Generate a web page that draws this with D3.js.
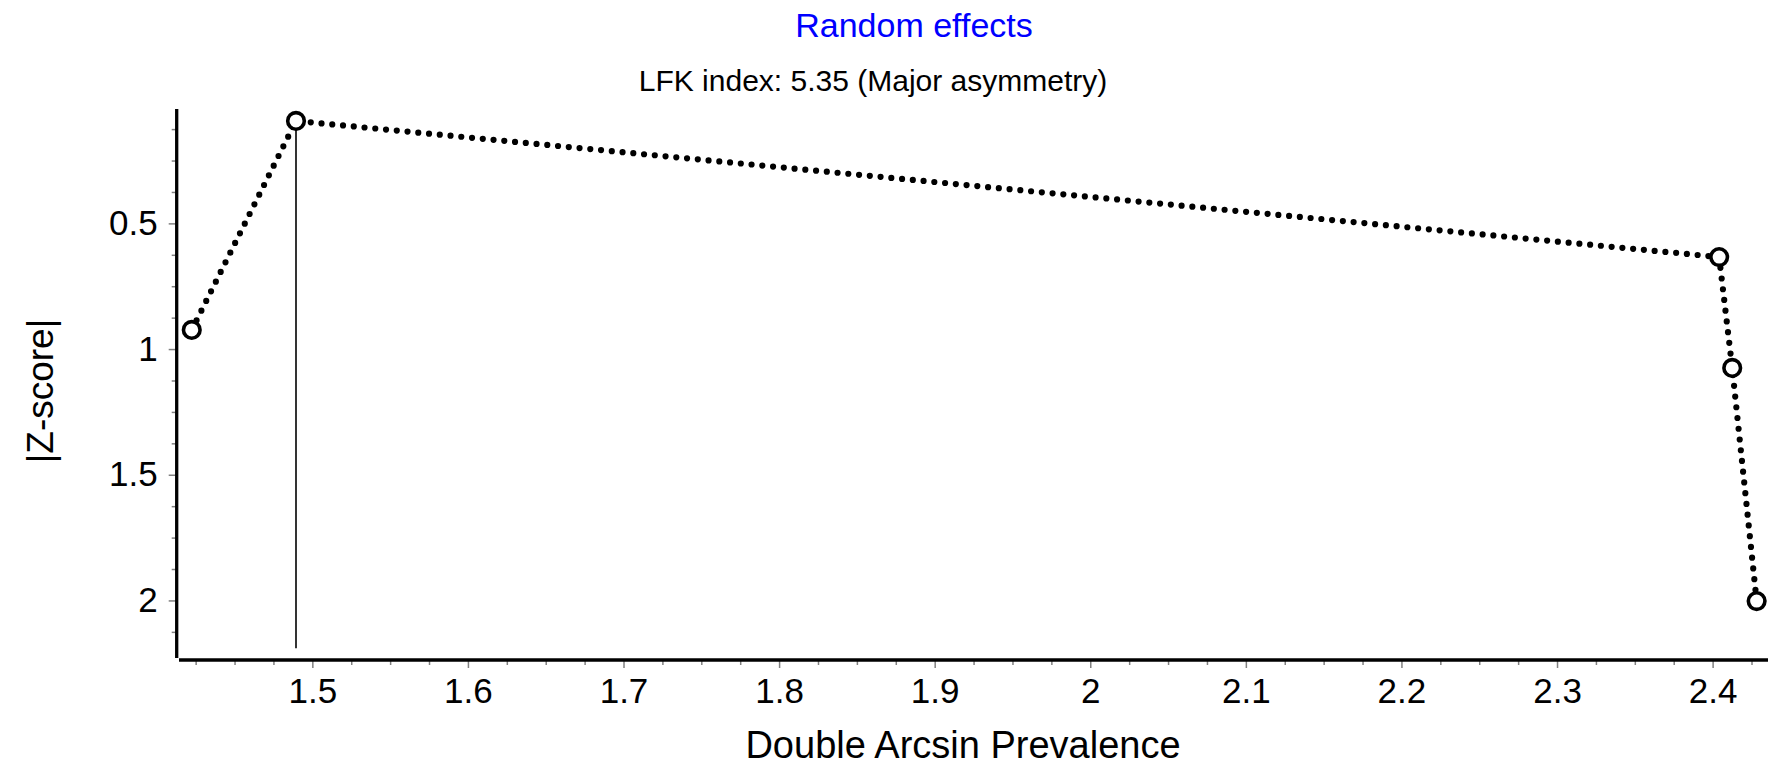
<!DOCTYPE html>
<html>
<head>
<meta charset="utf-8">
<script src="https://cdn.jsdelivr.net/npm/d3@7"></script>
<style>
  html, body { margin: 0; padding: 0; background: #fff; }
  svg { display: block; font-family: "Liberation Sans", Arial, sans-serif; }
  .tick line { stroke: #808080; stroke-width: 1.5; }
  .tick text { fill: #000; }
</style>
</head>
<body>
<div id="chart"></div>
<script>
// Data
const prevalence = [1.4225, 1.4895, 2.4042, 2.4126, 2.4283];
const zScore = [0.924, 0.0925, 0.634, 1.075, 2.0026];
const xDomain = [1.4143, 2.4356];
const yDomain = [0.045, 2.229];
const xMajorTicks = [1.5, 1.6, 1.7, 1.8, 1.9, 2, 2.1, 2.2, 2.3, 2.4];
const yMajorTicks = [0.5, 1, 1.5, 2];
const refLineBottom = 2.19;
const titleText = "Random effects";
const subtitleText = "LFK index: 5.35 (Major asymmetry)";
const xLabel = "Double Arcsin Prevalence";
const yLabel = "|Z-score|";

const width = 1776;
const height = 772;
const margin = { top: 109, right: 8, bottom: 114, left: 179 };

const svg = d3
  .select("#chart")
  .append("svg")
  .attr("width", width)
  .attr("height", height);

const x = d3
  .scaleLinear()
  .domain(xDomain)
  .range([margin.left, width - margin.right]);
const y = d3
  .scaleLinear()
  .domain(yDomain)
  .range([margin.top, height - margin.bottom]);

const points = prevalence.map((p, i) => ({ x: p, z: zScore[i] }));

// minor ticks every 0.025 on x, every 0.125 on y
const xMinor = d3.range(1.425, 2.43, 0.025).filter(
  (v) => !xMajorTicks.some((t) => Math.abs(t - v) < 1e-6)
);
const yMinor = d3.range(0.125, 2.2, 0.125).filter(
  (v) => !yMajorTicks.some((t) => Math.abs(t - v) < 1e-6)
);

const xAxisY = height - margin.bottom + 2;
const yAxisX = margin.left - 2.3;

// x axis
svg
  .append("g")
  .attr("transform", `translate(0,${xAxisY})`)
  .call(d3.axisBottom(x).tickValues(xMinor).tickSize(5).tickFormat(""))
  .call((g) => g.select(".domain").remove());
svg
  .append("g")
  .attr("class", "x-axis")
  .attr("transform", `translate(0,${xAxisY})`)
  .call(
    d3
      .axisBottom(x)
      .tickValues(xMajorTicks)
      .tickSize(8)
      .tickPadding(10)
      .tickFormat(d3.format("~g"))
  )
  .attr("font-size", 35)
  .attr("font-family", null)
  .call((g) => g.select(".domain").remove());
svg
  .append("line")
  .attr("x1", x(xDomain[0]))
  .attr("x2", x(xDomain[1]))
  .attr("y1", xAxisY)
  .attr("y2", xAxisY)
  .attr("stroke", "#000")
  .attr("stroke-width", 3.3);

// y axis
svg
  .append("g")
  .attr("transform", `translate(${yAxisX},0)`)
  .call(d3.axisLeft(y).tickValues(yMinor).tickSize(5).tickFormat(""))
  .call((g) => g.select(".domain").remove());
svg
  .append("g")
  .attr("class", "y-axis")
  .attr("transform", `translate(${yAxisX},0)`)
  .call(
    d3
      .axisLeft(y)
      .tickValues(yMajorTicks)
      .tickSize(8)
      .tickPadding(11)
      .tickFormat(d3.format("~g"))
  )
  .attr("font-size", 35)
  .attr("font-family", null)
  .call((g) => g.select(".domain").remove());
svg
  .append("line")
  .attr("x1", yAxisX)
  .attr("x2", yAxisX)
  .attr("y1", y(yDomain[0]))
  .attr("y2", y(yDomain[1]))
  .attr("stroke", "#000")
  .attr("stroke-width", 3.3);

// reference line at the point with the smallest |Z|
const minPoint = points.reduce((a, b) => (b.z < a.z ? b : a));
svg
  .append("line")
  .attr("x1", x(minPoint.x))
  .attr("x2", x(minPoint.x))
  .attr("y1", y(minPoint.z))
  .attr("y2", y(refLineBottom))
  .attr("stroke", "#000")
  .attr("stroke-width", 1.6);

// dotted connecting line
const line = d3
  .line()
  .x((d) => x(d.x))
  .y((d) => y(d.z));
svg
  .append("path")
  .datum(points)
  .attr("d", line)
  .attr("fill", "none")
  .attr("stroke", "#000")
  .attr("stroke-width", 6.2)
  .attr("stroke-linecap", "round")
  .attr("stroke-dasharray", "0 10.8");

svg
  .append("g")
  .selectAll("circle")
  .data(points)
  .join("circle")
  .attr("cx", (d) => x(d.x))
  .attr("cy", (d) => y(d.z))
  .attr("r", 8.3)
  .attr("fill", "#fff")
  .attr("stroke", "#000")
  .attr("stroke-width", 3.6);

// titles
svg
  .append("text")
  .attr("x", 914)
  .attr("y", 37)
  .attr("text-anchor", "middle")
  .attr("font-size", 34)
  .attr("fill", "#0000ff")
  .text(titleText);
svg
  .append("text")
  .attr("x", 873)
  .attr("y", 91)
  .attr("text-anchor", "middle")
  .attr("font-size", 30)
  .attr("fill", "#000")
  .text(subtitleText);

// axis labels
svg
  .append("text")
  .attr("x", 963)
  .attr("y", 758)
  .attr("text-anchor", "middle")
  .attr("font-size", 38)
  .text(xLabel);
svg
  .append("text")
  .attr("transform", `translate(53,391) rotate(-90)`)
  .attr("text-anchor", "middle")
  .attr("font-size", 37)
  .text(yLabel);
</script>
</body>
</html>
